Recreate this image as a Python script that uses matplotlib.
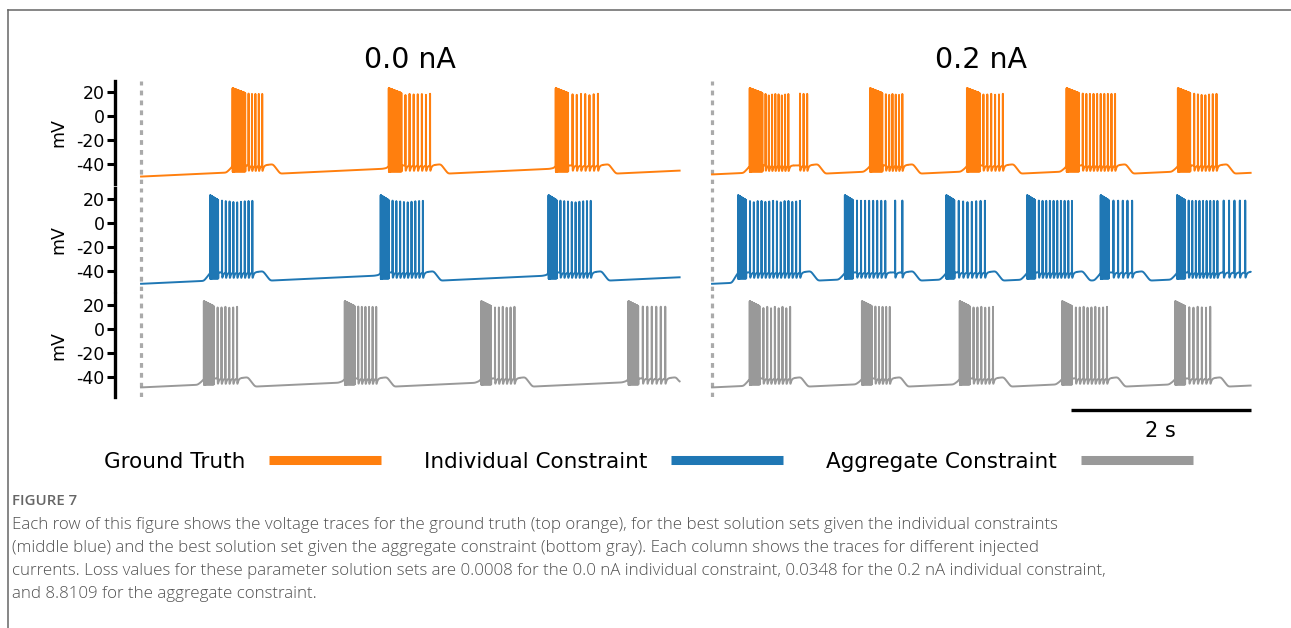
import numpy as np
import matplotlib
matplotlib.use("Agg")
import matplotlib.pyplot as plt
from matplotlib.lines import Line2D

# ---------------- data (times in s, voltages in mV) ----------------
currents = ["0.0 nA", "0.2 nA"]
series_names = ["Ground Truth", "Individual Constraint", "Aggregate Constraint"]
series_colors = ["#ff7f0e", "#1f77b4", "#999999"]
yticks = [20, 0, -20, -40]
trace_len_s = 6.0
scale_bar_s = 2

# Ground truth
gt_0_on = [1.02, 2.76, 4.62]
gt_0_end = [1.35, 3.22, 5.09]
gt_0_ntail = [5, 7, 7]
gt_0_extra = []
gt_2_on = [0.42, 1.76, 2.84, 3.95, 5.19]
gt_2_end = [0.85, 2.12, 3.24, 4.49, 5.62]
gt_2_ntail = [8, 6, 6, 10, 7]
gt_2_extra = [(0.98, 1.06, 3)]
# Individual constraint
ic_0_on = [0.77, 2.67, 4.54]
ic_0_end = [1.24, 3.14, 5.01]
ic_0_ntail = [9, 9, 9]
ic_0_extra = []
ic_2_on = [0.29, 1.48, 2.61, 3.51, 4.33, 5.18]
ic_2_end = [0.98, 1.93, 3.04, 4.01, 4.68, 5.63]
ic_2_ntail = [14, 8, 7, 10, 5, 9]
ic_2_extra = [(2.04, 2.12, 2), (5.70, 5.94, 5)]
# Aggregate constraint
ac_0_on = [0.70, 2.27, 3.79, 5.43]
ac_0_end = [1.07, 2.62, 4.16, 5.84]
ac_0_ntail = [6, 6, 6, 6]
ac_0_extra = []
ac_2_on = [0.42, 1.67, 2.76, 3.90, 5.16]
ac_2_end = [0.87, 1.98, 3.13, 4.40, 5.55]
ac_2_ntail = [8, 5, 6, 9, 6]
ac_2_extra = []

# membrane potential at trace start, [row][col]
v_start = [[-50.8, -49.0], [-51.0, -51.0], [-49.0, -49.0]]
dense_dur = [0.14, 0.09, 0.11]

caption_title = "FIGURE 7"
caption_lines = [
    "Each row of this figure shows the voltage traces for the ground truth (top orange), for the best solution sets given the individual constraints",
    "(middle blue) and the best solution set given the aggregate constraint (bottom gray). Each column shows the traces for different injected",
    "currents. Loss values for these parameter solution sets are 0.0008 for the 0.0 nA individual constraint, 0.0348 for the 0.2 nA individual constraint,",
    "and 8.8109 for the aggregate constraint.",
]

panels = [
    [(gt_0_on, gt_0_end, gt_0_ntail, gt_0_extra), (gt_2_on, gt_2_end, gt_2_ntail, gt_2_extra)],
    [(ic_0_on, ic_0_end, ic_0_ntail, ic_0_extra), (ic_2_on, ic_2_end, ic_2_ntail, ic_2_extra)],
    [(ac_0_on, ac_0_end, ac_0_ntail, ac_0_extra), (ac_2_on, ac_2_end, ac_2_ntail, ac_2_extra)],
]


def make_trace(on, end, ntail, extra, v0, ddur, t):
    v_low, slope, v_plat, v_hump = -48.3, 3.5, -41.5, -40.5
    groups = sorted([(a, b) for a, b in zip(on, end)] + [(a, b) for a, b, n in extra])
    merged = []
    for a, b in groups:
        if merged and a - merged[-1][1] < 0.2:
            merged[-1][1] = max(merged[-1][1], b)
        else:
            merged.append([a, b])
    kt, kv = [t[0] - 1.0, 0.0], [v0 - slope, v0]
    lt, lv = 0.0, v0
    for a, b in merged:
        pt = a - 0.07
        kt += [pt, a - 0.015, a, b, b + 0.12, b + 0.2]
        kv += [lv + slope * (pt - lt), -43.5, v_plat, v_plat, v_hump, v_low]
        lt, lv = b + 0.2, v_low
    tf = max(lt, t[-1]) + 1.0
    kt.append(tf)
    kv.append(lv + slope * (tf - lt))
    base = np.interp(t, kt, kv)
    dt = t[1] - t[0]
    sig = int(0.012 / dt)
    k = np.exp(-0.5 * (np.arange(-4 * sig, 4 * sig + 1) / sig) ** 2)
    k /= k.sum()
    pad = np.pad(base, 4 * sig, mode="edge")
    base = np.convolve(pad, k, mode="valid")
    v = base.copy()
    spikes = []
    for a, b, n in zip(on, end, ntail):
        ts = np.arange(a, a + ddur, 0.004)
        pk = np.linspace(23, 19, len(ts))
        spikes += [(s, p, 0) for s, p in zip(ts, pk)]
        spikes += [(s, 18.5, 1) for s in np.linspace(a + ddur, b, n + 1)[1:]]
    for a, b, n in extra:
        spikes += [(s, 18.5, 1) for s in np.linspace(a, b, n)]
    for s, p, kind in spikes:
        i0 = max(int((s - 0.004) / dt), 0)
        i1 = min(int((s + 0.06) / dt), len(t))
        if i0 >= i1:
            continue
        tt = t[i0:i1] - s
        A = p - base[min(int(s / dt), len(t) - 1)]
        v[i0:i1] += A * np.exp(-(tt / 0.0007) ** 2)
        if kind == 0:
            v[i0:i1] -= 5.0 * np.exp(-((tt - 0.002) / 0.0008) ** 2)
        else:
            pos = np.clip(tt, 0, None)
            v[i0:i1] -= 7.0 * (1 - np.exp(-pos / 0.002)) * np.exp(-pos / 0.012)
    return v


W, H = 1291, 628
fig = plt.figure(figsize=(W / 100, H / 100), dpi=100)
plt.rcParams["path.simplify"] = False

t = np.arange(0, trace_len_s + 1e-9, 0.0002)
col_left = [115, 686]
row_top = [81, 188, 294]
ax_w, ax_h = 570, 103
axes = [[None, None] for _ in range(3)]
for r in range(3):
    for c in range(2):
        ax = fig.add_axes([col_left[c] / W, 1 - (row_top[r] + ax_h) / H, ax_w / W, ax_h / H])
        axes[r][c] = ax
        on, end, nt, ex = panels[r][c]
        v = make_trace(on, end, nt, ex, v_start[r][c], dense_dur[r], t)
        ax.axvline(0, color="#aaaaaa", lw=2.3, ls=(0, (1.5, 1.6)), zorder=1)
        ax.plot(t, v, color=series_colors[r], lw=1.4, zorder=2)
        ax.set_xlim(-0.29, 6.06)
        ax.set_ylim(-57, 29)
        ax.set_xticks([])
        for s in ["top", "right", "bottom"]:
            ax.spines[s].set_visible(False)
        if c == 0:
            ax.spines["left"].set_linewidth(2.4)
            ax.set_yticks(yticks)
            ax.set_yticklabels([str(y) for y in yticks])
            ax.tick_params(axis="y", length=5.5, width=2.2, labelsize=12.5, pad=2)
            ax.set_ylabel("mV", fontsize=12.5, va="center")
            ax.yaxis.set_label_coords(-0.1, 0.5)
        else:
            ax.spines["left"].set_visible(False)
            ax.set_yticks([])

# column titles
for c in range(2):
    ax = axes[0][c]
    ax.text(3.0, 1 + (81 - 68) / ax_h, currents[c], transform=ax.get_xaxis_transform(),
            ha="center", va="baseline", fontsize=20.5)

# scale bar
axb = axes[2][1]
ybar = -57 - (410 - (row_top[2] + ax_h)) / 1.198
axb.plot([trace_len_s - scale_bar_s, trace_len_s], [ybar, ybar], color="black", lw=2.4,
         clip_on=False, solid_capstyle="butt")
axb.text(trace_len_s - scale_bar_s / 2, -57 - (437 - (row_top[2] + ax_h)) / 1.198,
         f"{scale_bar_s} s", ha="center", va="baseline", fontsize=15)

# legend
handles = [Line2D([], [], color=cl, lw=6.5, solid_capstyle="butt") for cl in series_colors]
fig.legend(handles, series_names, loc="center", bbox_to_anchor=(648.5 / W, 1 - 462 / H),
           ncol=3, markerfirst=False, frameon=False, fontsize=15.5, handlelength=5.2,
           handletextpad=1.1, columnspacing=2.0, borderpad=0)

# frame lines
fig.add_artist(Line2D([8 / W, 1.0], [1 - 10 / H, 1 - 10 / H], color="#666666", lw=1.1,
                      transform=fig.transFigure))
fig.add_artist(Line2D([8 / W, 8 / W], [1 - 10 / H, 0.0], color="#666666", lw=1.1,
                      transform=fig.transFigure))

# caption
fig.text(12 / W, 1 - 505 / H, caption_title, fontsize=10.8, color="#666666",
         family=["Open Sans", "DejaVu Sans"], fontweight="semibold", va="baseline")
for i, line in enumerate(caption_lines):
    fig.text(12 / W, 1 - (529 + 23 * i) / H, line, fontsize=12.2, color="#505050",
             family=["Open Sans", "DejaVu Sans"], fontweight="light", va="baseline")

fig.savefig("out.png", dpi=100)
